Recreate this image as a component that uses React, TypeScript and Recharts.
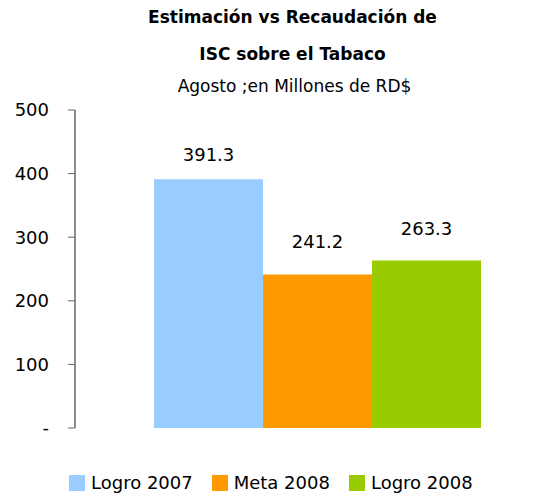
import React from 'react';
import { BarChart, Bar, XAxis, YAxis, LabelList } from 'recharts';

const categories = ['Agosto'];
const logro2007 = [391.3];
const meta2008 = [241.2];
const logro2008 = [263.3];
const yTicks = [0, 100, 200, 300, 400, 500];

const series = [
  { key: 'logro2007', name: 'Logro 2007', color: '#99CCFF', labelOffset: 18 },
  { key: 'meta2008', name: 'Meta 2008', color: '#FF9900', labelOffset: 27 },
  { key: 'logro2008', name: 'Logro 2008', color: '#99CC00', labelOffset: 26 },
];

const chartData = categories.map((name, i) => ({
  name,
  logro2007: logro2007[i],
  meta2008: meta2008[i],
  logro2008: logro2008[i],
}));

const FONT = '"DejaVu Sans", Verdana, sans-serif';

const LegendBox: React.FC = () => (
  <div style={{ position: 'absolute', left: 69, top: 472, display: 'flex', alignItems: 'center', fontSize: 18, color: '#000' }}>
    {series.map((s, i) => (
      <div key={s.key} style={{ display: 'flex', alignItems: 'center', marginRight: i < 2 ? 19 : 0 }}>
        <span style={{ width: 16, height: 16, background: s.color, display: 'inline-block', marginRight: 6 }} />
        <span>{s.name}</span>
      </div>
    ))}
  </div>
);

const App: React.FC = () => {
  return (
    <div style={{ position: 'absolute', left: 0, top: 0, width: 551, height: 497, background: '#fff', fontFamily: FONT }}>
      <BarChart
        width={551}
        height={497}
        data={chartData}
        margin={{ top: 110, right: 0, bottom: 69, left: 15 }}
        barGap={0}
        barSize={109}
      >
        <XAxis
          dataKey="name"
          tick={false}
          tickLine={false}
          height={0}
          padding={{ left: 8, right: 0 }}
          axisLine={{ stroke: '#666', strokeWidth: 1.5 }}
        />
        <YAxis
          width={60}
          domain={[0, 500]}
          ticks={yTicks}
          interval={0}
          tickSize={7}
          tickMargin={19}
          tickFormatter={(v: number) => (v === 0 ? '-' : String(v))}
          tick={{ fill: '#000', fontSize: 18, fontFamily: FONT }}
          tickLine={{ stroke: '#666' }}
          axisLine={{ stroke: '#666', strokeWidth: 1.5 }}
        />
        {series.map(s => (
          <Bar key={s.key} dataKey={s.key} name={s.name} fill={s.color} isAnimationActive={false}>
            <LabelList
              dataKey={s.key}
              position="top"
              offset={s.labelOffset}
              fill="#000"
              fontSize={18}
              fontFamily={FONT}
              formatter={(v: number) => v.toFixed(1)}
            />
          </Bar>
        ))}
      </BarChart>
      <div style={{ position: 'absolute', left: 0, width: 551, top: -1, textAlign: 'center', fontWeight: 'bold', fontSize: 17, lineHeight: '37px', paddingLeft: 34, boxSizing: 'border-box' }}>
        <div>Estimación vs Recaudación de</div>
        <div>ISC sobre el Tabaco</div>
      </div>
      <div style={{ position: 'absolute', left: 0, width: 551, top: 76, textAlign: 'center', fontSize: 17, paddingLeft: 38, boxSizing: 'border-box' }}>
        Agosto ;en Millones de RD$
      </div>
      <LegendBox />
    </div>
  );
};

export default App;
